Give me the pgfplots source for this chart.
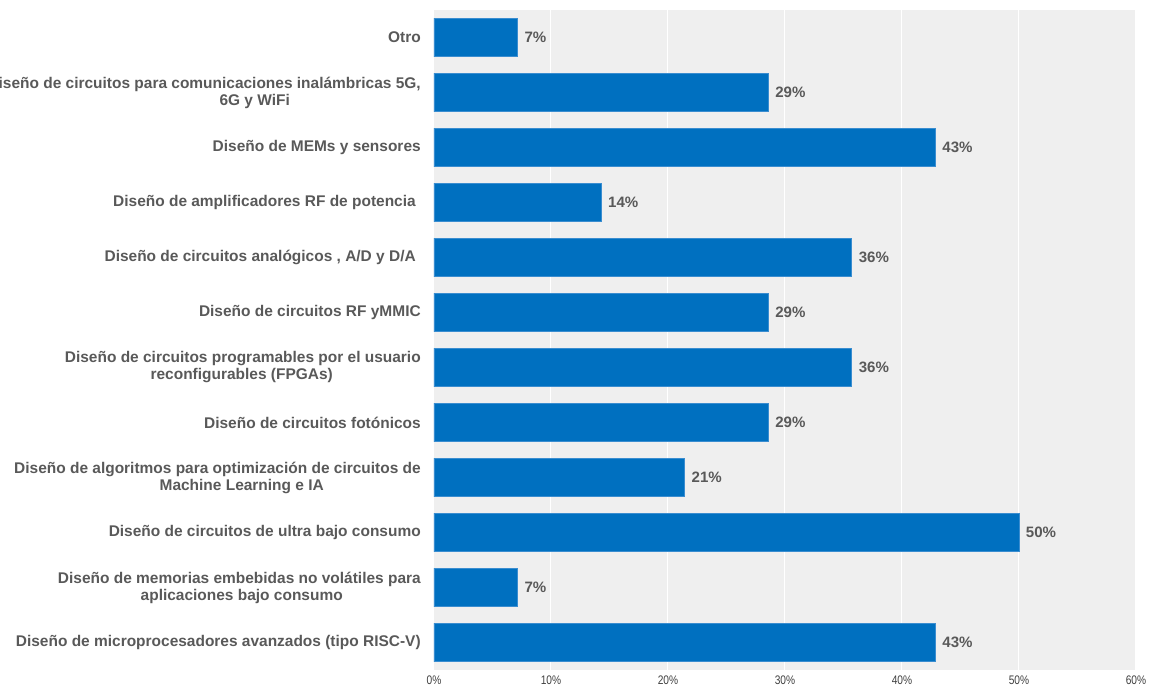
\documentclass[border=0pt]{standalone}
\usepackage{fontspec}
\setmainfont{Liberation Sans}
\newfontfamily\narrowfont[FakeStretch=0.82]{Liberation Sans}
\usepackage{pgfplots}
\usepackage{pgfplotstable}
\pgfplotsset{compat=1.18}
\definecolor{barblue}{HTML}{0070C0}
\definecolor{baredge}{HTML}{3A8DD0}
\definecolor{bggray}{HTML}{EFEFEF}
\definecolor{labgray}{HTML}{595959}
\definecolor{tickgray}{HTML}{404040}
\pgfplotstableread{
y val
0 7.14
1 28.57
2 42.86
3 14.29
4 35.71
5 28.57
6 35.71
7 28.57
8 21.43
9 50
10 7.14
11 42.86
}\datatable
\begin{document}
\begin{tikzpicture}
\begin{axis}[
  at={(325.5pt,15pt)}, anchor=south west,
  scale only axis, width=526.5pt, height=495pt,
  xbar, bar width=28.9pt,
  xmin=0, xmax=60, ymin=-0.5, ymax=11.5, y dir=reverse,
  axis background/.style={fill=bggray},
  axis line style={draw=none},
  xtick={0,10,...,60},
  xticklabels={0\%,10\%,20\%,30\%,40\%,50\%,60\%},
  xticklabel style={font=\narrowfont\fontsize{9.3pt}{11pt}\selectfont, text=tickgray, inner sep=0pt, yshift=-4.5pt},
  xmajorgrids, grid style={white, line width=0.75pt},
  major tick length=0pt,
  ytick={0,...,11},
  yticklabels={
    Otro,
    {Diseño de circuitos para comunicaciones inalámbricas 5G,\\\makebox[249pt][c]{6G y WiFi}},
    Diseño de MEMs y sensores,
    {Diseño de amplificadores RF de potencia\hspace*{3.75pt}},
    {Diseño de circuitos analógicos , A/D y D/A\hspace*{3.75pt}},
    Diseño de circuitos RF yMMIC,
    {Diseño de circuitos programables por el usuario\\\makebox[268.5pt][c]{reconfigurables (FPGAs)}},
    Diseño de circuitos fotónicos,
    {Diseño de algoritmos para optimización de circuitos de\\\makebox[268.5pt][c]{Machine Learning e IA}},
    Diseño de circuitos de ultra bajo consumo,
    {Diseño de memorias embebidas no volátiles para\\\makebox[268.5pt][c]{aplicaciones bajo consumo}},
    Diseño de microprocesadores avanzados (tipo RISC-V)
  },
  yticklabel style={font=\bfseries\fontsize{11.6pt}{12.75pt}\selectfont, text=labgray, align=right, inner sep=0pt, xshift=-9.75pt},
  point meta=x,
  nodes near coords={\pgfmathprintnumber[fixed,precision=0,assume math mode=true]{\pgfplotspointmeta}\%},
  nodes near coords style={font=\bfseries\fontsize{11.3pt}{12pt}\selectfont, text=labgray, inner sep=0pt, xshift=5pt},
]
\addplot[fill=barblue, draw=baredge, line width=0.5pt] table[x=val, y=y]{\datatable};
\end{axis}
\pgfresetboundingbox
\path[use as bounding box] (0,0) rectangle (865.5pt,517.5pt);
\end{tikzpicture}
\end{document}
